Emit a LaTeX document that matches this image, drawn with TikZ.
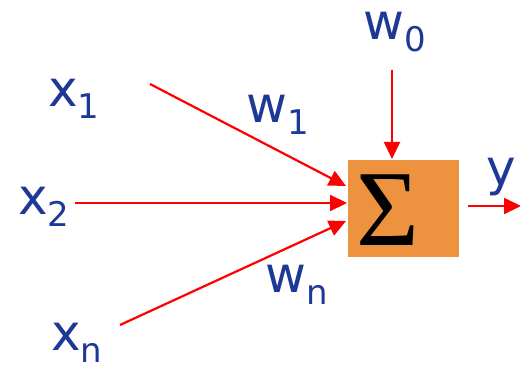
\documentclass[tikz,border=0pt]{standalone}
\usepackage{fontspec}
\setmainfont{DejaVu Sans}
\newfontfamily\sigmafont{Liberation Serif}
\usetikzlibrary{arrows.meta}
\definecolor{labblue}{RGB}{30,56,150}
\definecolor{boxorange}{RGB}{237,146,62}
\newcommand\lbl[2]{#1\raisebox{-12pt}{\fontsize{34}{34}\selectfont #2}}
\tikzset{
  lab/.style={anchor=base west,inner sep=0pt,text=labblue,font=\fontsize{50}{50}\selectfont},
  arr/.style={draw=red,line width=2.2pt,-{Triangle[length=17pt,width=16pt]}},
  sumbox/.style={fill=boxorange,draw=none,minimum width=111pt,minimum height=97pt,inner sep=0pt}
}
\begin{document}
\begin{tikzpicture}[x=1pt,y=-1pt]
\useasboundingbox (0,0) rectangle (520,366);
\node[sumbox] (box) at (403.5,208.5) {};
\node[anchor=center,inner sep=0pt,font=\sigmafont\fontsize{108}{108}\selectfont] (sig) at (388,210) {Σ};
\node[lab] (x1) at (48,107) {\lbl{x}{1}};
\node[lab] (x2) at (18,215) {\lbl{x}{2}};
\node[lab] (xn) at (51,351) {\lbl{x}{n}};
\node[lab] (w0) at (363,40) {\lbl{w}{0}};
\node[lab] (w1) at (246,123) {\lbl{w}{1}};
\node[lab] (wn) at (265,293) {\lbl{w}{n}};
\node[lab] (y) at (486,186) {y};
\coordinate (s1) at (150,84);
\coordinate (s2) at (75,203);
\coordinate (sn) at (120,325);
\coordinate (s0) at (392,70);
\coordinate (so) at (468,206);
\coordinate (eo) at (521,206);
\coordinate (e1) at (346,186);
\coordinate (e2) at (347,203);
\coordinate (en) at (346,221);
\coordinate (e0) at (392,159);
\draw[arr] (s1) -- (e1);
\draw[arr] (s2) -- (e2);
\draw[arr] (sn) -- (en);
\draw[arr] (s0) -- (e0);
\draw[arr] (so) -- (eo);
\end{tikzpicture}
\end{document}
